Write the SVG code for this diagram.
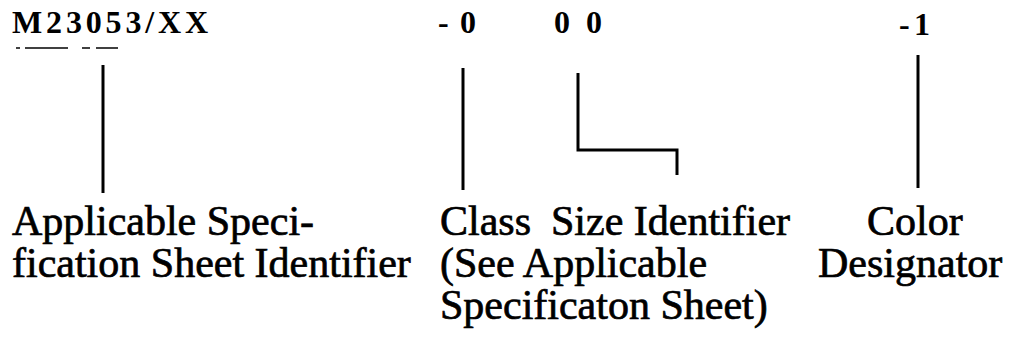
<svg xmlns="http://www.w3.org/2000/svg" width="1015" height="343" viewBox="0 0 1015 343">
<style>
.code{font-family:"Liberation Serif",serif;font-size:32px;font-weight:bold;fill:#000}
.lbl{font-family:"Liberation Serif",serif;font-size:42px;fill:#000;stroke:#000;stroke-width:0.7}
.ln{stroke:#000;stroke-width:3;fill:none}
.ul{stroke:#000;stroke-width:1.5}
</style>
<rect width="1015" height="343" fill="#fff"/>
<g id="code">
<text class="code" x="12" y="33" textLength="196" lengthAdjust="spacing">M23053/XX</text>
<line class="ul" x1="16" y1="48" x2="20" y2="48"/>
<line class="ul" x1="25" y1="48" x2="68" y2="48"/>
<line class="ul" x1="82" y1="48" x2="90" y2="48"/>
<line class="ul" x1="96" y1="48" x2="118" y2="48"/>
</g>
<g id="class-code"><text class="code" x="438" y="33" textLength="38" lengthAdjust="spacing">-0</text></g>
<g id="size-code"><text class="code" x="554" y="33" textLength="48" lengthAdjust="spacing">00</text></g>
<g id="color-code"><text class="code" x="899" y="35" textLength="31" lengthAdjust="spacing">-1</text></g>
<g id="connectors">
<line class="ln" x1="103" y1="65" x2="103" y2="193"/>
<line class="ln" x1="463" y1="68" x2="463" y2="190"/>
<polyline class="ln" points="578,73 578,150 677,150 677,175"/>
<line class="ln" x1="918" y1="55" x2="918" y2="188"/>
</g>
<g id="spec-label">
<text class="lbl" x="12" y="235">Applicable Speci-</text>
<text class="lbl" x="12" y="277">fication Sheet Identifier</text>
</g>
<g id="class-label">
<text class="lbl" x="440" y="235">Class</text>
<text class="lbl" x="440" y="277">(See Applicable</text>
<text class="lbl" x="440" y="319">Specificaton Sheet)</text>
</g>
<g id="size-label">
<text class="lbl" x="551" y="235">Size Identifier</text>
</g>
<g id="color-label">
<text class="lbl" x="867" y="235">Color</text>
<text class="lbl" x="818" y="277">Designator</text>
</g>
</svg>
